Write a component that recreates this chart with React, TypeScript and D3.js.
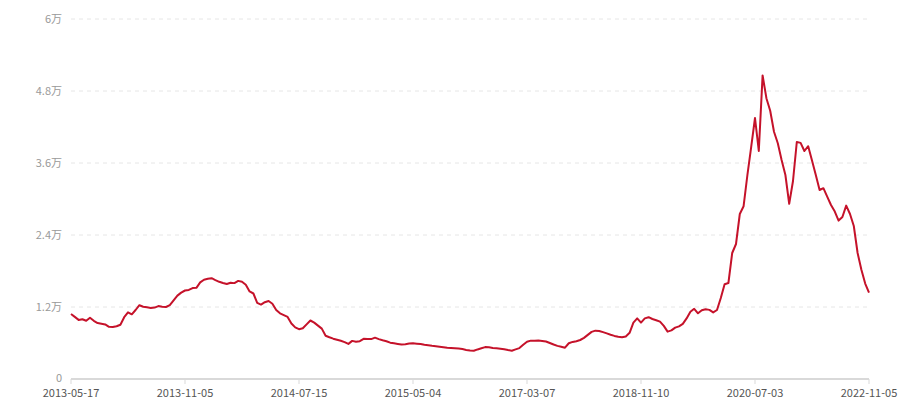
import * as React from "react";
import { useEffect, useRef } from "react";
import * as d3 from "d3";

// every 30th point carries a date label
const tickLabels = [
  "2013-05-17", "2013-11-05", "2014-07-15", "2015-05-04",
  "2017-03-07", "2018-11-10", "2020-07-03", "2022-11-05",
];
const tickStep = 30;

const yTicks = [0, 12000, 24000, 36000, 48000, 60000];

const values = [
  10830, 10350, 9850, 9950, 9700, 10200, 9700, 9330, 9220, 9100,
  8700, 8670, 8800, 9050, 10300, 11110, 10780, 11500, 12300, 12050,
  11950, 11850, 11900, 12150, 12050, 12000, 12300, 13100, 13900, 14400,
  14750, 14850, 15150, 15200, 16100, 16550, 16700, 16800, 16480, 16200,
  16000, 15830, 16050, 15980, 16350, 16200, 15700, 14600, 14250, 12700,
  12400, 12800, 13000, 12550, 11500, 10950, 10650, 10350, 9250, 8600,
  8300, 8450, 9100, 9750, 9400, 8900, 8400, 7200, 6950, 6720,
  6550, 6380, 6150, 5850, 6350, 6200, 6300, 6700, 6650, 6650,
  6890, 6650, 6450, 6300, 6060, 5950, 5850, 5760, 5780, 5900,
  5940, 5880, 5820, 5700, 5620, 5530, 5460, 5380, 5300, 5220,
  5160, 5110, 5070, 4990, 4850, 4740, 4700, 4930, 5120, 5320,
  5280, 5180, 5120, 5050, 4960, 4820, 4720, 4930, 5150, 5700,
  6200, 6390, 6380, 6400, 6350, 6240, 6000, 5750, 5520, 5380,
  5220, 5960, 6180, 6300, 6500, 6850, 7350, 7850, 8060, 8010,
  7810, 7600, 7380, 7180, 7030, 6960, 7100, 7700, 9400, 10100,
  9400, 10100, 10300, 10000, 9800, 9560, 8850, 7890, 8100, 8560,
  8780, 9200, 10100, 11200, 11700, 10950, 11450, 11620, 11520, 11100,
  11500, 13500, 15800, 16000, 21000, 22500, 27500, 28800, 34000, 38700,
  43500, 38000, 50600, 46800, 44700, 41200, 39300, 36500, 34000, 29200,
  33000, 39500, 39350, 38000, 38800, 36400, 34000, 31500, 31800, 30400,
  29000, 27900, 26400, 27000, 28900, 27500, 25500, 21000, 18200, 15900,
  14400,
];

const fontFamily = "'Noto Sans CJK SC', 'Noto Sans', sans-serif";

const formatY = (v: number) => (v === 0 ? "0" : `${v / 10000}万`);

const PriceChart: React.FC = () => {
  const svgRef = useRef<SVGSVGElement | null>(null);

  useEffect(() => {
    const svg = d3.select(svgRef.current);
    svg.selectAll("*").remove();

    const width = 900;
    const height = 400;
    const margin = { top: 19, right: 31, bottom: 21, left: 71 };

    const x = d3
      .scaleLinear()
      .domain([0, values.length - 1])
      .range([margin.left, width - margin.right]);

    const y = d3
      .scaleLinear()
      .domain([0, 60000])
      .range([height - margin.bottom, margin.top]);

    // grid lines
    svg
      .append("g")
      .selectAll("line")
      .data(yTicks.slice(1))
      .join("line")
      .attr("x1", margin.left)
      .attr("x2", width - margin.right)
      .attr("y1", (d) => y(d))
      .attr("y2", (d) => y(d))
      .attr("stroke", "#e6e6e6")
      .attr("stroke-dasharray", "4,4");

    // y labels
    svg
      .append("g")
      .selectAll("text")
      .data(yTicks)
      .join("text")
      .attr("x", margin.left - 9)
      .attr("y", (d) => y(d) - (d === 0 ? 1 : 0))
      .attr("dy", "0.35em")
      .attr("text-anchor", "end")
      .attr("fill", "#999")
      .attr("font-size", 11)
      .attr("font-family", fontFamily)
      .text((d) => formatY(d));

    // x axis
    const xAxis = svg.append("g").attr("transform", `translate(0, ${y(0)})`);
    xAxis
      .append("line")
      .attr("x1", margin.left)
      .attr("x2", width - margin.right)
      .attr("stroke", "#d9d9d9")
      .attr("stroke-width", 2);

    const ticks = xAxis
      .selectAll("g.tick")
      .data(tickLabels)
      .join("g")
      .attr("class", "tick")
      .attr("transform", (_d, i) => `translate(${x(i * tickStep)}, 0)`);
    ticks.append("line").attr("y1", 0).attr("y2", 5).attr("stroke", "#d9d9d9");
    ticks
      .append("text")
      .attr("y", 18)
      .attr("text-anchor", "middle")
      .attr("fill", "#555")
      .attr("font-size", 11)
      .attr("font-family", fontFamily)
      .text((d) => d);

    const line = d3
      .line<number>()
      .x((_d, i) => x(i))
      .y((d) => y(d));

    svg
      .append("path")
      .datum(values)
      .attr("fill", "none")
      .attr("stroke", "#c5122a")
      .attr("stroke-width", 2)
      .attr("stroke-linejoin", "round")
      .attr("d", line);
  }, []);

  return (
    <svg
      ref={svgRef}
      width={900}
      height={400}
      style={{ position: "absolute", left: 0, top: 0, background: "#fff" }}
    ></svg>
  );
};

export default function App() {
  return <PriceChart />;
}
